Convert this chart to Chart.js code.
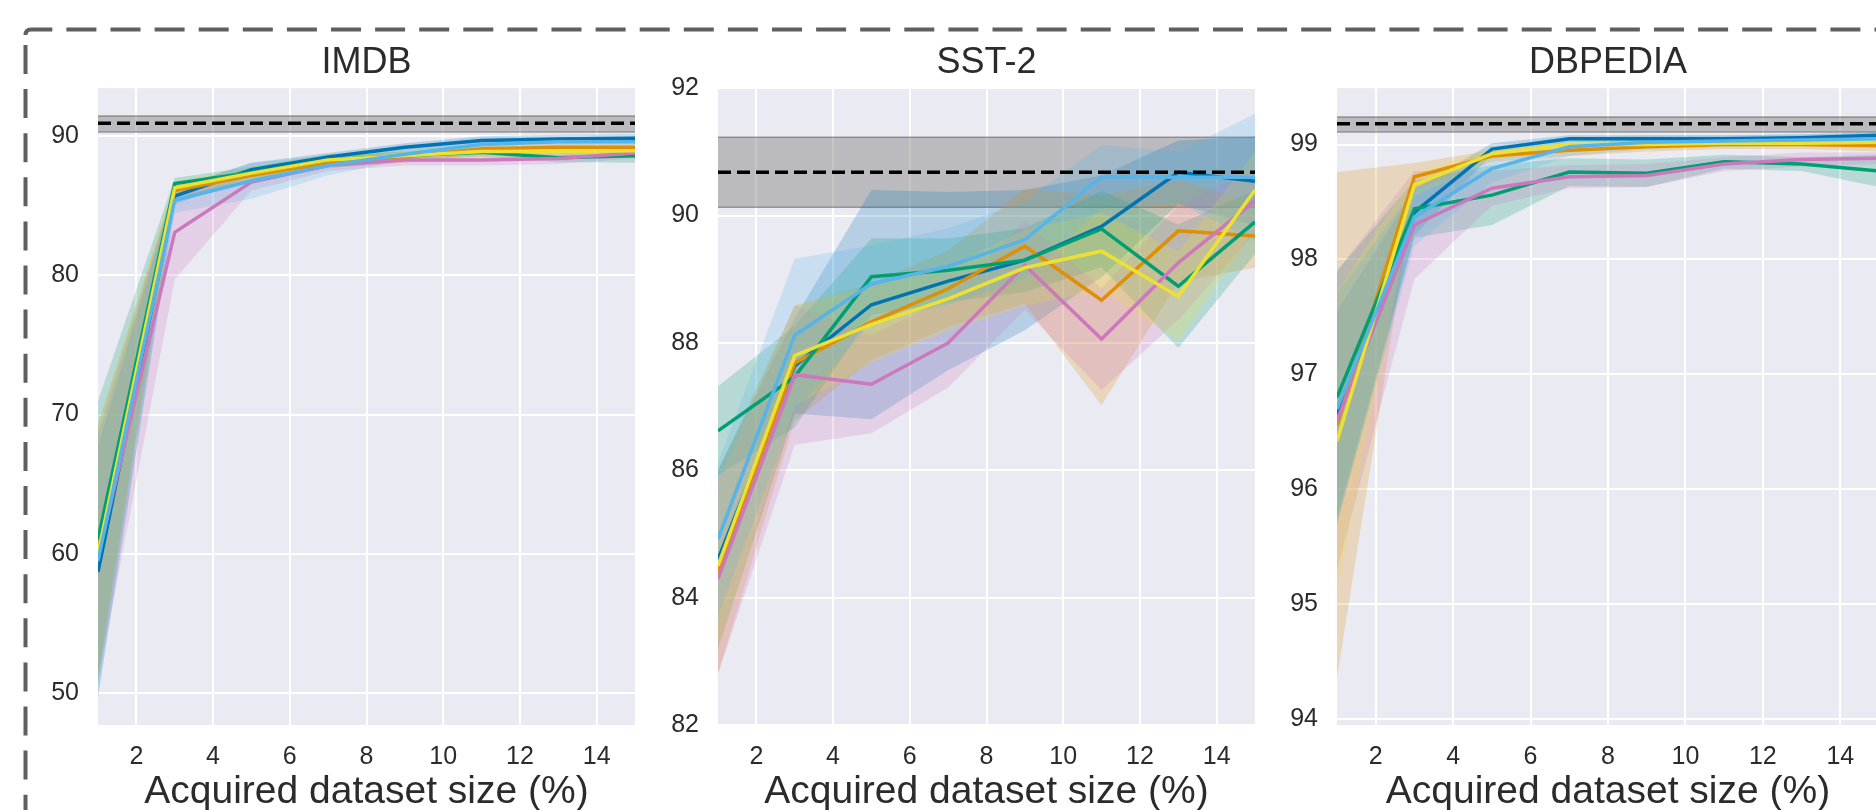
<!DOCTYPE html>
<html>
<head>
<meta charset="utf-8">
<script src="https://cdn.jsdelivr.net/npm/chart.js@4.4.1/dist/chart.umd.min.js"></script>
<style>
html, body { margin: 0; padding: 0; background: #fff; width: 1876px; height: 810px; overflow: hidden; }
.panel { position: absolute; top: 0; }
#frame { position: absolute; left: 0; top: 0; }
</style>
</head>
<body>
<svg id="frame" width="1876" height="810">
  <path d="M25.5,35 Q25.5,29.5 31,29.5 H1900" fill="none" stroke="#5f5f5f" stroke-width="4" stroke-dasharray="30 14.1"/>
  <path d="M25.5,45 V830" fill="none" stroke="#5f5f5f" stroke-width="4" stroke-dasharray="29 15.1"/>
</svg>
<div class="panel" style="left:0px"><canvas id="imdb" width="640" height="812"></canvas></div>
<div class="panel" style="left:640px"><canvas id="sst2" width="620" height="812"></canvas></div>
<div class="panel" style="left:1260px"><canvas id="dbpedia" width="625" height="812"></canvas></div>
<script>
// acquired dataset size (%) where each run was evaluated
const xValues = [1, 3, 5, 7, 9, 11, 13, 15];
const xTicks = [2, 4, 6, 8, 10, 12, 14];

const lineColors = ['#0173B2', '#DE8F05', '#029E73', '#CC78BC', '#ECE133', '#56B4E9'];

// IMDB
const imdbBlue      = [58.7, 85.7, 87.6, 88.5, 89.2, 89.7, 89.8, 89.85];
const imdbOrange    = [60.3, 86.1, 87.2, 88.1, 88.5, 89.1, 89.2, 89.2];
const imdbGreen     = [61.0, 86.6, 87.4, 88.3, 88.6, 88.85, 88.45, 88.6];
const imdbPink      = [59.8, 83.1, 86.7, 87.9, 88.3, 88.3, 88.4, 88.8];
const imdbYellow    = [60.0, 86.3, 87.35, 88.3, 88.6, 88.9, 88.9, 88.95];
const imdbLightBlue = [59.5, 85.4, 86.8, 87.9, 88.7, 89.4, 89.6, 89.6];
const imdbBlueSd      = [9, 0.6, 0.5, 0.3, 0.3, 0.3, 0.3, 0.3];
const imdbOrangeSd    = [9, 0.5, 0.5, 0.4, 0.4, 0.4, 0.3, 0.4];
const imdbGreenSd     = [10, 0.4, 0.4, 0.4, 0.3, 0.3, 0.3, 0.5];
const imdbPinkSd      = [9, 3.4, 0.6, 0.4, 0.4, 0.4, 0.4, 0.4];
const imdbYellowSd    = [9, 0.5, 0.5, 0.4, 0.4, 0.4, 0.3, 0.3];
const imdbLightBlueSd = [9, 0.9, 1.3, 0.7, 0.4, 0.3, 0.3, 0.4];
const imdbTicks = [50, 60, 70, 80, 90];
const imdbBaseline = 90.94;
const imdbBaselineBand = [90.3, 91.45];

// SST-2
const sstBlue      = [84.6, 87.64, 88.6, 88.97, 89.3, 89.83, 90.68, 90.54];
const sstOrange    = [84.4, 87.68, 88.33, 88.85, 89.52, 88.67, 89.76, 89.68];
const sstGreen     = [86.62, 87.47, 89.04, 89.14, 89.3, 89.79, 88.89, 89.9];
const sstPink      = [84.3, 87.5, 87.35, 88.0, 89.22, 88.06, 89.26, 90.23];
const sstYellow    = [84.5, 87.8, 88.29, 88.69, 89.18, 89.44, 88.73, 90.4];
const sstLightBlue = [84.92, 88.12, 88.93, 89.2, 89.62, 90.61, 90.6, 90.6];
const sstBlueSd      = [1.4, 0.75, 1.8, 1.4, 1.1, 0.8, 0.5, 0.7];
const sstOrangeSd    = [1.6, 0.9, 0.6, 0.6, 0.9, 1.65, 0.8, 0.5];
const sstGreenSd     = [0.7, 0.8, 0.6, 0.5, 0.5, 0.6, 0.97, 0.5];
const sstPinkSd      = [1.5, 1.1, 0.77, 0.7, 0.7, 0.8, 0.9, 0.5];
const sstYellowSd    = [1.3, 0.8, 0.6, 0.5, 0.6, 0.6, 0.7, 0.6];
const sstLightBlueSd = [1.2, 1.2, 0.6, 0.6, 0.6, 0.5, 0.4, 1.0];
const sstTicks = [82, 84, 86, 88, 90, 92];
const sstBaseline = 90.68;
const sstBaselineBand = [90.13, 91.23];

// DBPEDIA
const dbBlue      = [96.65, 98.41, 98.96, 99.05, 99.05, 99.05, 99.06, 99.08];
const dbOrange    = [96.56, 98.72, 98.9, 98.95, 98.98, 99.0, 99.0, 98.99];
const dbGreen     = [96.8, 98.44, 98.56, 98.76, 98.75, 98.85, 98.83, 98.77];
const dbPink      = [96.6, 98.3, 98.62, 98.72, 98.73, 98.83, 98.87, 98.88];
const dbYellow    = [96.42, 98.65, 98.92, 99.0, 99.0, 99.01, 99.01, 99.02];
const dbLightBlue = [96.7, 98.37, 98.79, 98.98, 99.02, 99.03, 99.04, 99.05];
const dbBlueSd      = [0.9, 0.2, 0.05, 0.03, 0.03, 0.03, 0.03, 0.03];
const dbOrangeSd    = [2.2, 0.12, 0.05, 0.05, 0.04, 0.04, 0.04, 0.05];
const dbGreenSd     = [1.1, 0.25, 0.26, 0.12, 0.12, 0.06, 0.06, 0.14];
const dbPinkSd      = [1.3, 0.47, 0.15, 0.1, 0.1, 0.06, 0.06, 0.05];
const dbYellowSd    = [1.3, 0.1, 0.05, 0.04, 0.04, 0.04, 0.04, 0.04];
const dbLightBlueSd = [1.0, 0.25, 0.12, 0.08, 0.06, 0.05, 0.05, 0.05];
const dbTicks = [94, 95, 96, 97, 98, 99];
const dbBaseline = 99.18;
const dbBaselineBand = [99.11, 99.24];

const FONT = '"Liberation Sans", Arial, sans-serif';
const TEXT = '#2b2b2b';

const plotBackground = {
    id: 'plotBackground',
    beforeDraw(chart) {
        const {ctx, chartArea} = chart;
        ctx.save();
        ctx.fillStyle = '#EAEAF2';
        ctx.fillRect(chartArea.left, chartArea.top, chartArea.right - chartArea.left, chartArea.bottom - chartArea.top);
        ctx.restore();
    }
};

function rgba(hex, a) {
    const n = parseInt(hex.slice(1), 16);
    return 'rgba(' + (n >> 16) + ',' + ((n >> 8) & 255) + ',' + (n & 255) + ',' + a + ')';
}

function points(values) {
    return values.map((v, i) => ({x: xValues[i], y: v}));
}

function flat(v) {
    return [{x: xValues[0], y: v}, {x: xValues[xValues.length - 1], y: v}];
}

function drawPanel(id, title, means, spreads, baseline, band, yMin, yMax, yTicks, yWidth, padRight) {
    const datasets = [];
    // full-data baseline band
    datasets.push({data: flat(band[1]), borderColor: 'rgba(90,90,90,0.55)', borderWidth: 1.5,
        backgroundColor: 'rgba(128,128,128,0.45)', fill: 1, pointRadius: 0, order: 40});
    datasets.push({data: flat(band[0]), borderColor: 'rgba(90,90,90,0.55)', borderWidth: 1.5,
        fill: false, pointRadius: 0, order: 40});
    // spread bands
    means.forEach((m, k) => {
        const sd = spreads[k];
        const idx = datasets.length;
        datasets.push({data: points(m.map((v, i) => v + sd[i])), borderWidth: 0, pointRadius: 0,
            backgroundColor: rgba(lineColors[k], 0.22), fill: idx + 1, order: 30 - k});
        datasets.push({data: points(m.map((v, i) => v - sd[i])), borderWidth: 0, pointRadius: 0,
            fill: false, order: 30 - k});
    });
    // mean lines
    means.forEach((m, k) => {
        datasets.push({data: points(m), borderColor: lineColors[k], borderWidth: 3.5, pointRadius: 0,
            fill: false, order: 20 - k});
    });
    // full-data baseline
    datasets.push({data: flat(baseline), borderColor: '#000', borderWidth: 3.5, borderDash: [13, 6],
        pointRadius: 0, fill: false, order: 0});

    new Chart(document.getElementById(id), {
        type: 'line',
        data: {datasets: datasets},
        plugins: [plotBackground],
        options: {
            responsive: false,
            animation: false,
            layout: {padding: {left: 0, right: padRight, top: 0, bottom: 0}},
            plugins: {
                legend: {display: false},
                tooltip: {enabled: false},
                title: {
                    display: true, text: title, color: TEXT, fullSize: false,
                    font: {family: FONT, size: 36, weight: 'normal', lineHeight: 1.2},
                    padding: {top: 41, bottom: 4}
                }
            },
            scales: {
                x: {
                    type: 'linear', min: 1, max: 15,
                    afterBuildTicks: s => { s.ticks = xTicks.map(v => ({value: v})); },
                    afterFit: s => { s.height = 87; },
                    grid: {color: '#ffffff', lineWidth: 2, drawTicks: false},
                    border: {display: false},
                    ticks: {color: TEXT, font: {family: FONT, size: 25}, padding: 17, maxRotation: 0},
                    title: {display: true, text: 'Acquired dataset size (%)', color: TEXT,
                        font: {family: FONT, size: 39, lineHeight: 1}, padding: {top: 0, bottom: 0}}
                },
                y: {
                    type: 'linear', min: yMin, max: yMax,
                    afterBuildTicks: s => { s.ticks = yTicks.map(v => ({value: v})); },
                    afterFit: s => { s.width = yWidth; },
                    grid: {color: '#ffffff', lineWidth: 2, drawTicks: false},
                    border: {display: false},
                    ticks: {color: TEXT, font: {family: FONT, size: 25}, padding: 19}
                }
            }
        }
    });
}

drawPanel('imdb', 'IMDB',
    [imdbBlue, imdbOrange, imdbGreen, imdbPink, imdbYellow, imdbLightBlue],
    [imdbBlueSd, imdbOrangeSd, imdbGreenSd, imdbPinkSd, imdbYellowSd, imdbLightBlueSd],
    imdbBaseline, imdbBaselineBand, 47.7, 93.45, imdbTicks, 98, 5);

drawPanel('sst2', 'SST-2',
    [sstBlue, sstOrange, sstGreen, sstPink, sstYellow, sstLightBlue],
    [sstBlueSd, sstOrangeSd, sstGreenSd, sstPinkSd, sstYellowSd, sstLightBlueSd],
    sstBaseline, sstBaselineBand, 82, 92, sstTicks, 78, 5);

drawPanel('dbpedia', 'DBPEDIA',
    [dbBlue, dbOrange, dbGreen, dbPink, dbYellow, dbLightBlue],
    [dbBlueSd, dbOrangeSd, dbGreenSd, dbPinkSd, dbYellowSd, dbLightBlueSd],
    dbBaseline, dbBaselineBand, 93.95, 99.49, dbTicks, 77, 6);
</script>
</body>
</html>
